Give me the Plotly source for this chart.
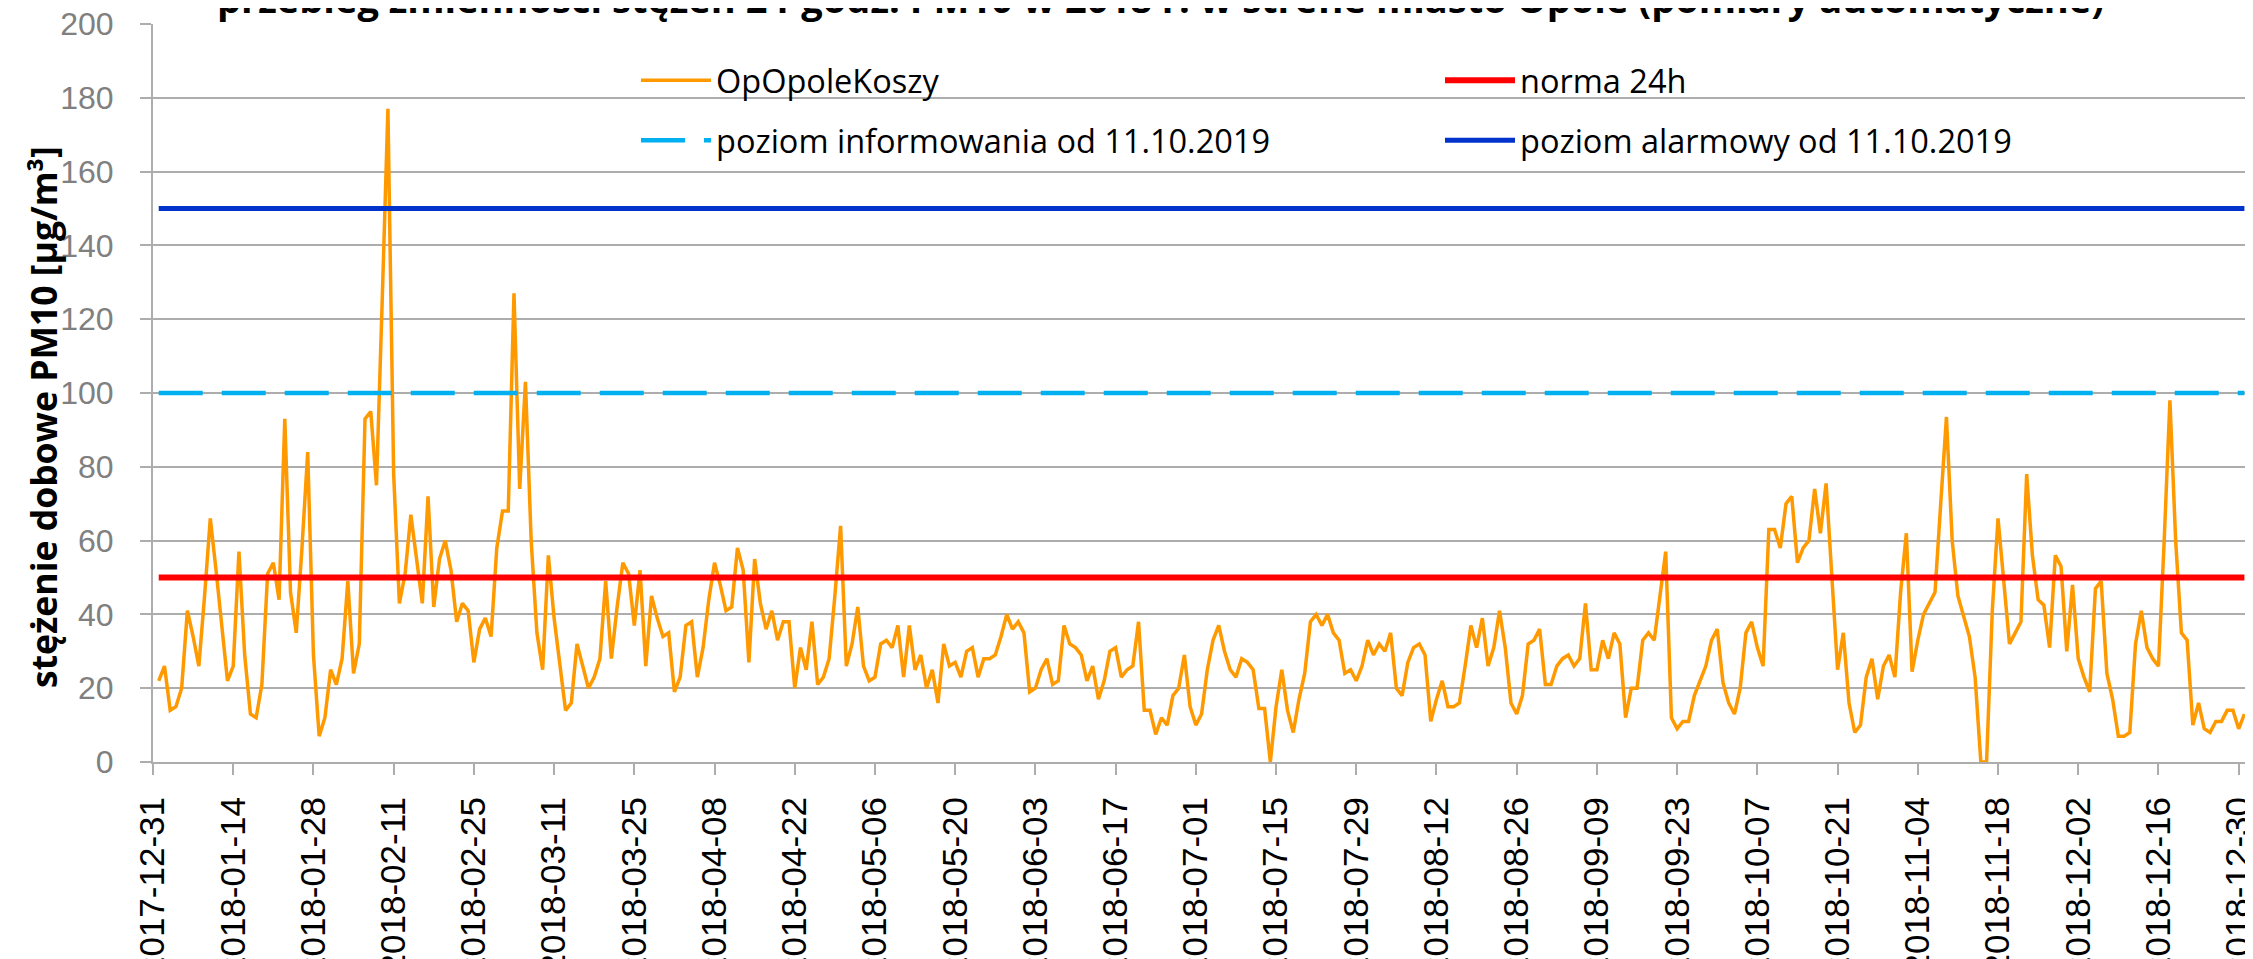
import pandas as pd
import plotly.graph_objects as go

# ---- data ----
title_text = "przebieg zmienności stężeń 24-godz. PM10 w 2018 r. w strefie miasto Opole (pomiary automatyczne)"
y_title = "stężenie dobowe PM10 [μg/m³]"
series_name = "OpOpoleKoszy"
start_date = "2018-01-01"

pm10 = [
    22, 26, 14, 15, 20, 41, 34, 26, 45, 66, 52, 37, 22, 26, 57, 29, 13, 12, 21, 51,
    54, 44, 93, 46, 35, 58, 84, 29, 7, 12, 25, 21, 28, 49, 24, 32, 93, 95, 75, 125,
    177, 78, 43, 51, 67, 55, 43, 72, 42, 55, 60, 52, 38, 43, 41, 27, 36, 39, 34, 58,
    68, 68, 127, 74, 103, 60, 35, 25, 56, 39, 27, 14, 16, 32, 26, 20, 23, 28, 49, 28,
    42, 54, 51, 37, 52, 26, 45, 39, 34, 35, 19, 23, 37, 38, 23, 31, 44, 54, 48, 41,
    42, 58, 52, 27, 55, 43, 36, 41, 33, 38, 38, 20, 31, 25, 38, 21, 23, 28, 45, 64,
    26, 32, 42, 26, 22, 23, 32, 33, 31, 37, 23, 37, 25, 29, 20, 25, 16, 32, 26, 27,
    23, 30, 31, 23, 28, 28, 29, 34, 40, 36, 38, 35, 19, 20, 25, 28, 21, 22, 37, 32,
    31, 29, 22, 26, 17, 22, 30, 31, 23, 25, 26, 38, 14, 14, 7.5, 12, 10, 18, 20, 29,
    15, 10, 13, 25, 33, 37, 30, 25, 23, 28, 27, 25, 14.5, 14.5, 0, 15, 25, 14, 8, 17,
    24, 38, 40, 37, 40, 35, 33, 24, 25, 22, 26, 33, 29, 32, 30, 35, 20, 18, 27, 31,
    32, 29, 11, 17, 22, 15, 15, 16, 26, 37, 31, 39, 26, 31, 41, 31, 16, 13, 18, 32,
    33, 36, 21, 21, 26, 28, 29, 26, 28, 43, 25, 25, 33, 28, 35, 32, 12, 20, 20, 33,
    35, 33, 45, 57, 12, 9, 11, 11, 18, 22, 26, 33, 36, 21.5, 16, 13, 20, 35, 38, 31,
    26, 63, 63, 58, 70, 72, 54, 58, 60, 74, 62, 75.5, 49, 25, 35, 16, 8, 10, 23, 28,
    17, 26, 29, 23, 46, 62, 24.5, 33, 40, 43, 46, 70, 93.5, 60, 45, 39.5, 34, 23, 0, 0,
    41, 66, 49, 32, 35, 38, 78, 56, 44, 42.5, 31, 56, 53, 30, 48, 28, 23, 19, 47, 49,
    24, 17, 7, 7, 8, 32, 41, 31, 28, 26, 60, 98, 60, 35, 33, 10, 16, 9, 8, 11,
    11, 14, 14, 9, 13,
]

levels_names = ["norma 24h", "poziom informowania od 11.10.2019", "poziom alarmowy od 11.10.2019"]
levels_values = [50, 100, 150]

x_ticks_start = "2017-12-31"
x_tick_step_days = 14
x_range = ["2017-12-31", "2019-01-01 12:00"]
y_range = [0, 200]
y_step = 20

dates = pd.date_range(start_date, periods=len(pm10), freq="D")
ends = [dates[0], dates[-1]]

# page is offset by the 8px body margin of the html page
PAGE_OFF = 8
W, H = 2253 - PAGE_OFF, 959 - PAGE_OFF
ML, MR, MT, MB = 153 - PAGE_OFF, 0, 24 - PAGE_OFF, 197
plot_w = W - ML - MR
plot_h = H - MT - MB
PL, PT = 153, 24  # plot left / top in page pixels

grid_col = "#ADADAD"
txt_font = "Open Sans"
num_font = "Liberation Sans"

fig = go.Figure()
fig.add_trace(go.Scatter(x=dates, y=pm10, mode="lines", name=series_name,
                         line=dict(color="#FF9900", width=3.5), legend="legend"))
fig.add_trace(go.Scatter(x=ends, y=[levels_values[0]] * 2, mode="lines", name=levels_names[0],
                         line=dict(color="#FF0000", width=6), legend="legend"))
fig.add_trace(go.Scatter(x=ends, y=[levels_values[1]] * 2, mode="lines", name=levels_names[1],
                         line=dict(color="#00B0F0", width=4.5, dash="44px,19px"), legend="legend2"))
fig.add_trace(go.Scatter(x=ends, y=[levels_values[2]] * 2, mode="lines", name=levels_names[2],
                         line=dict(color="#0033CC", width=5), legend="legend2"))

legend_common = dict(orientation="h", x=(641 - PL - 5) / plot_w, xanchor="left", yanchor="middle",
                     bgcolor="rgba(0,0,0,0)", font=dict(family=txt_font, size=32.5, color="#000000"),
                     entrywidth=719, entrywidthmode="pixels", itemwidth=70)

fig.update_layout(
    width=W, height=H,
    margin=dict(l=ML, r=MR, t=MT, b=MB, autoexpand=False),
    paper_bgcolor="white", plot_bgcolor="white",
    showlegend=True,
    legend=dict(**legend_common, y=1 - (80.5 - PT) / plot_h),
    legend2=dict(**legend_common, y=1 - (140.7 - PT) / plot_h),
    xaxis=dict(
        range=x_range, type="date", automargin=False,
        tickmode="linear", tick0=x_ticks_start, dtick=x_tick_step_days * 86400000,
        tickformat="%Y-%m-%d", tickangle=-90,
        tickfont=dict(family=num_font, size=35, color="#000000"),
        ticklabeloverflow="allow",
        showgrid=False, zeroline=False,
        showline=True, linecolor=grid_col, linewidth=2,
        ticks="outside", ticklen=11, tickwidth=2, tickcolor=grid_col,
        ticklabelstandoff=8,
    ),
    yaxis=dict(
        range=y_range, dtick=y_step, tick0=0, automargin=False,
        tickfont=dict(family=num_font, size=32, color="#808080"),
        ticklabeloverflow="allow",
        showgrid=True, gridcolor=grid_col, gridwidth=2,
        zeroline=False, showline=True, linecolor=grid_col, linewidth=2,
        ticks="outside", ticklen=11, tickwidth=2, tickcolor=grid_col,
        ticklabelstandoff=20,
    ),
    annotations=[
        dict(text="<b>" + title_text + "</b>", xref="paper", yref="paper",
             x=(1160 - PL) / plot_w, y=1 + (PT - 26) / plot_h, xanchor="center", yanchor="bottom",
             showarrow=False, font=dict(family=txt_font, size=38, color="#000000")),
        dict(text="<b>" + y_title + "</b>", xref="paper", yref="paper",
             x=(43 - PL) / plot_w, y=1 - (417 - PT) / plot_h, xanchor="center", yanchor="middle",
             textangle=-90, showarrow=False, font=dict(family=txt_font, size=35.5, color="#000000")),
    ],
)

fig.write_html("out.html")
